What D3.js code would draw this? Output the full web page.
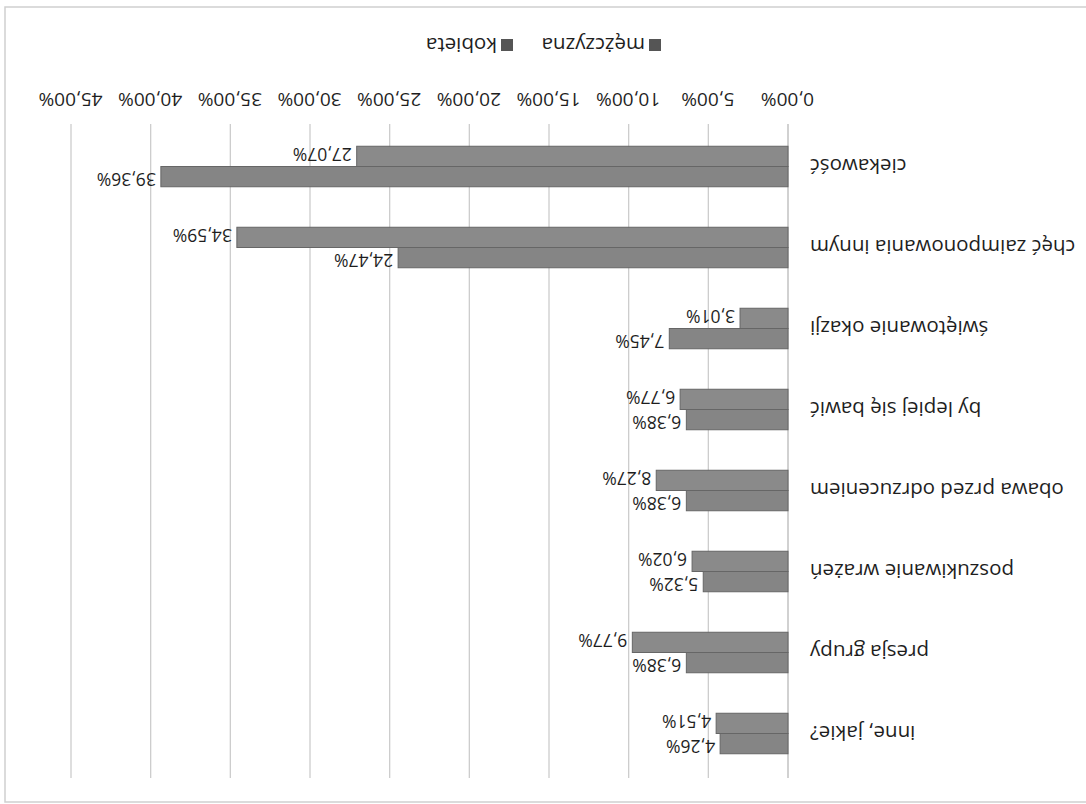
<!DOCTYPE html>
<html>
<head>
<meta charset="utf-8">
<script src="https://cdn.jsdelivr.net/npm/d3@7"></script>
<style>
  body { margin: 0; background: #fff; }
  svg { display: block; }
  text { font-family: "Open Sans", "Noto Sans", sans-serif; fill: #1e1e1e; }
</style>
</head>
<body>
<div class="vizHolder"></div>
<script>
var width = 1086,
    height = 804;

// categories, top to bottom when the chart is the right way up
var categories = ["inne, jakie?", "presja grupy", "poszukiwanie wrażeń", "obawa przed odrzuceniem",
                  "by lepiej się bawić", "świętowanie okazji", "chęć zaimponowania innym", "ciekawość"];
var seriesNames = ["mężczyzna", "kobieta"];
var mezczyzna = [4.51, 9.77, 6.02, 8.27, 6.77, 3.01, 34.59, 27.07];
var kobieta   = [4.26, 6.38, 5.32, 6.38, 6.38, 7.45, 24.47, 39.36];
var xTicks = [0, 5, 10, 15, 20, 25, 30, 35, 40, 45];

var pl = d3.formatLocale({decimal: ",", thousands: " ", grouping: [3], currency: ["", " zł"]});
var pct = pl.format(".2f");

var svgContainer = d3.select('.vizHolder')
                     .append('svg')
                     .attr('width', width)
                     .attr('height', height);

// the scanned original is upside down, so the whole chart is turned 180 degrees
var chart = svgContainer.append('g')
                        .attr('transform', 'rotate(180 ' + width / 2 + ' ' + height / 2 + ')');

// frame of the scan
chart.append('rect')
     .attr('x', -4).attr('y', 2)
     .attr('width', 1085).attr('height', 795)
     .attr('fill', 'none')
     .attr('stroke', '#cfcfcf')
     .attr('stroke-width', 1.5);

var xScale = d3.scaleLinear()
               .domain([0, 45])
               .range([298, 1015]);

var yScale = d3.scaleBand()
               .domain(categories)
               .range([30, 678])
               .paddingInner(0.5)
               .paddingOuter(0.25);

var inner = d3.scaleBand()
              .domain(["kobieta", "mężczyzna"])
              .range([0, yScale.bandwidth()]);

//gridlines
chart.append('g')
     .selectAll('line')
     .data(xTicks)
     .enter().append('line')
     .attr('x1', function(d){ return xScale(d); })
     .attr('x2', function(d){ return xScale(d); })
     .attr('y1', 26)
     .attr('y2', 680)
     .attr('stroke', function(d){ return d === 0 ? '#b8b8b8' : '#cdcdcd'; })
     .attr('stroke-width', 1.3);

//x-axis labels
var xAxis = d3.axisBottom()
              .scale(xScale)
              .tickValues(xTicks)
              .tickSize(0)
              .tickFormat(function(d){ return pct(d) + '%'; });

var xAxisGroup = chart.append('g')
                      .attr('transform', 'translate(0, 695)')
                      .call(xAxis);
xAxisGroup.select('.domain').remove();
xAxisGroup.selectAll('text')
          .attr('font-size', 19)
          .style('font-family', '"Open Sans", sans-serif')
          .attr('fill', '#1e1e1e');

//category labels
chart.append('g')
     .selectAll('text')
     .data(categories)
     .enter().append('text')
     .attr('x', 276)
     .attr('y', function(d){ return yScale(d) + yScale.bandwidth() / 2; })
     .attr('dy', '0.35em')
     .attr('text-anchor', 'end')
     .attr('font-size', 20.5)
     .text(function(d){ return d; });

var rows = [];
categories.forEach(function(c, i){
    rows.push({cat: c, s: "mężczyzna", v: mezczyzna[i]});
    rows.push({cat: c, s: "kobieta", v: kobieta[i]});
});

//bars
chart.append('g')
     .selectAll('rect')
     .data(rows)
     .enter().append('rect')
     .attr('x', xScale(0))
     .attr('y', function(d){ return yScale(d.cat) + inner(d.s); })
     .attr('width', function(d){ return xScale(d.v) - xScale(0); })
     .attr('height', inner.bandwidth())
     .attr('fill', function(d){ return d.s === "mężczyzna" ? '#8a8a8a' : '#858585'; })
     .attr('stroke', '#666')
     .attr('stroke-width', 1);

//data labels (pairs nudged apart a little so close values stay readable)
chart.append('g')
     .selectAll('text')
     .data(rows)
     .enter().append('text')
     .attr('x', function(d){ return xScale(d.v) + 5; })
     .attr('y', function(d){
         var nudge = d.s === "mężczyzna" ? 2 : -2;
         return yScale(d.cat) + inner(d.s) + inner.bandwidth() / 2 + nudge;
     })
     .attr('dy', '0.35em')
     .attr('font-size', 17.5)
     .text(function(d){ return pct(d.v) + '%'; });

//legend
var legend = chart.append('g')
                  .attr('transform', 'translate(425, 759)');
var lx = [0, 148];
seriesNames.forEach(function(s, i){
    legend.append('rect')
          .attr('x', lx[i]).attr('y', -6)
          .attr('width', 12).attr('height', 12)
          .attr('fill', '#555');
    legend.append('text')
          .attr('x', lx[i] + 16)
          .attr('y', 0)
          .attr('dy', '0.35em')
          .attr('font-size', 20.5)
          .text(s);
});
</script>
</body>
</html>
